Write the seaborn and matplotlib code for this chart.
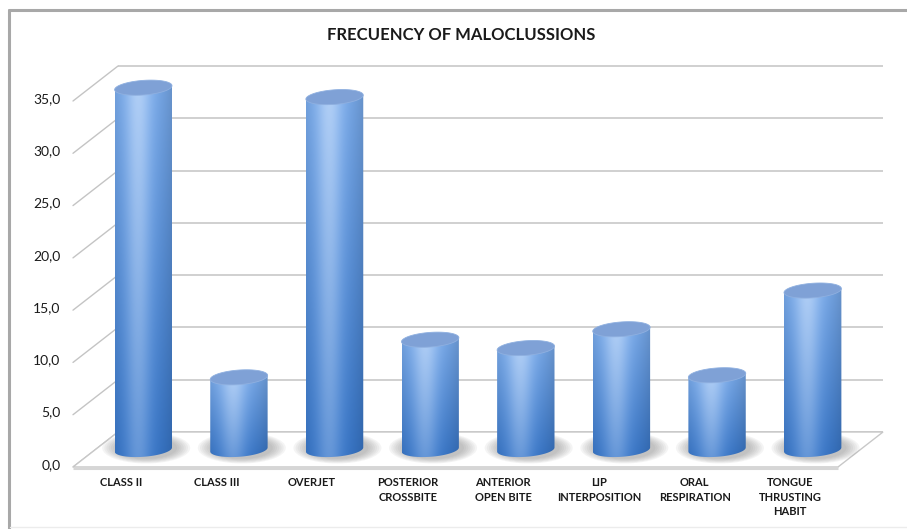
import numpy as np
import matplotlib
matplotlib.use("Agg")
import matplotlib.pyplot as plt
import seaborn as sns
from matplotlib.patches import Polygon, Ellipse
from matplotlib.lines import Line2D

# ---- data -------------------------------------------------------------
categories = ["CLASS II", "CLASS III", "OVERJET", "POSTERIOR\nCROSSBITE",
              "ANTERIOR\nOPEN BITE", "LIP\nINTERPOSITION", "ORAL\nRESPIRATION",
              "TONGUE\nTHRUSTING\nHABIT"]
frequency = [34.6, 6.9, 33.7, 10.5, 9.7, 11.5, 7.1, 15.2]
y_ticks = [0, 5, 10, 15, 20, 25, 30, 35]
y_tick_labels = ["0,0", "5,0", "10,0", "15,0", "20,0", "25,0", "30,0", "35,0"]
title = "FRECUENCY OF MALOCLUSSIONS"

# ---- style ------------------------------------------------------------
sns.set_theme(style="white")
plt.rcParams["font.family"] = ["Lato", "DejaVu Sans"]

W, H = 907, 529
fig = plt.figure(figsize=(W / 100, H / 100), dpi=100)
fig.patch.set_facecolor("white")

# Axes span the whole figure; the limits place the mid-depth plane of the
# 3-D box (baseline, category slots, value scale) where it belongs.
n = len(categories)
plane_left, plane_width = 95.5, 765.0      # px, mid-depth plane
base_px, top_px = 449.5, 83.5               # px from top for 0 and 35
slot = plane_width / n
ppu = (base_px - top_px) / y_ticks[-1]
x_lo = -0.5 - plane_left / slot
x_hi = -0.5 + (W - plane_left) / slot
y_lo = -(H - base_px) / ppu
y_hi = base_px / ppu

ax = fig.add_axes([0, 0, 1, 1])
sns.barplot(x=categories, y=frequency, width=0.6, color="#5b8fd8", ax=ax)
ax.set_xlim(x_lo, x_hi)
ax.set_ylim(y_lo, y_hi)
ax.axis("off")

# depth offset between front edge / mid plane / back wall (data units)
dx = 22.5 / slot
dy = 17.5 / ppu
x_left, x_right = -0.5, n - 0.5
grid_col = "#c4c4c4"

# back wall gridlines
for v in y_ticks:
    ax.plot([x_left + dx, x_right + dx], [v + dy, v + dy], color=grid_col,
            lw=1.1, zorder=0.2, solid_capstyle="butt")
    # left wall diagonals
    ax.plot([x_left - dx, x_left + dx], [v - dy, v + dy], color=grid_col,
            lw=1.0, zorder=0.2)

# floor
floor = Polygon([[x_left - dx, -dy], [x_right - dx, -dy],
                 [x_right + dx, dy], [x_left + dx, dy]], closed=True,
                facecolor="white", edgecolor="#c8c8c8", lw=1.0, zorder=0.5)
ax.add_patch(floor)
ax.plot([x_left - dx, x_right - dx], [-dy - 0.12, -dy - 0.12],
        color="#d6d6d6", lw=2.2, zorder=0.6, solid_capstyle="butt")

# y tick labels at the front edge
for v, lab in zip(y_ticks, y_tick_labels):
    ax.text(x_left - dx - 0.13, v - dy + 0.2, lab, ha="right", va="center",
            fontsize=10, color="#1a1a1a")

# category labels at the front edge
for i, lab in enumerate(categories):
    ax.text(i - dx, -dy - 1.0, lab, ha="center", va="top", fontsize=8,
            fontweight="bold", color="#1a1a1a", linespacing=1.38)

# ---- cylinders ------------------------------------------------------------
cap_b = 7.3 / ppu          # half-height of the elliptical caps
tilt = 2.0 / ppu           # perspective tilt of the caps
bottom_rgb = np.array([0.22, 0.47, 0.80])
top_rgb = np.array([0.48, 0.68, 0.94])

for patch, v in zip(ax.patches, frequency):
    x0 = patch.get_x()
    w = patch.get_width()
    top = patch.get_height()
    xc = x0 + w / 2
    a = w / 2
    patch.set_visible(False)

    # floor shadow
    for k in range(7):
        s = 1.0 + 0.07 * k
        sh = Ellipse((xc + 0.03, 0.15), 2 * a * s * 1.08, 2 * cap_b * s * 1.5,
                     facecolor="#7a7a7a", edgecolor="none", alpha=0.08,
                     zorder=1)
        ax.add_patch(sh)

    # body outline: sides + rounded bottom
    t = np.linspace(np.pi, 2 * np.pi, 80)
    bx = xc + a * np.cos(t)
    by = cap_b * np.sin(t) + tilt * np.cos(t)
    verts = np.vstack([[x0, top - tilt], [x0, -tilt],
                       np.column_stack([bx, by]),
                       [x0 + w, top + tilt], [x0, top - tilt]])
    body = Polygon(verts, closed=True, facecolor="none", edgecolor="none",
                   zorder=2)
    ax.add_patch(body)

    # cylindrical shading
    nx, ny = 120, 200
    u = np.linspace(0, 1, nx)
    tt = np.linspace(0, 1, ny)[:, None]
    base = bottom_rgb + (top_rgb - bottom_rgb) * tt
    base = base[:, None, :]
    hl = 0.40 * np.exp(-((u - 0.40) / 0.22) ** 2)[None, :, None]
    edge = (1.0 - 0.16 * ((u - 0.42) / 0.58) ** 2)[None, :, None]
    img = (base + (1 - base) * hl * (0.55 + 0.45 * tt[:, :, None])) * edge
    img = np.clip(img, 0, 1)
    im = ax.imshow(img, extent=(x0, x0 + w, -cap_b - tilt, top + tilt),
                   origin="lower", aspect="auto", interpolation="bilinear",
                   zorder=2)
    im.set_clip_path(body)

    # top cap
    tc = np.linspace(0, 2 * np.pi, 100)
    cx = xc + a * np.cos(tc)
    cy = top + cap_b * np.sin(tc) + tilt * np.cos(tc)
    cap = Polygon(np.column_stack([cx, cy]), closed=True,
                  facecolor="#7fa1d6", edgecolor="#8fb0e0", lw=0.6, zorder=3)
    ax.add_patch(cap)

# ---- title and frame ---------------------------------------------------------
fig.text(461.5 / W, 1 - 35 / H, title, ha="center", va="center",
         fontsize=12, fontweight="bold", color="#1a1a1a")

fig.add_artist(Line2D([8.5 / W, 1], [1 - 9.5 / H, 1 - 9.5 / H],
                      transform=fig.transFigure, color="#a8a8a8", lw=2.2))
fig.add_artist(Line2D([8.5 / W, 8.5 / W], [0, 1 - 9.5 / H],
                      transform=fig.transFigure, color="#a8a8a8", lw=2.2))
fig.add_artist(Line2D([10 / W, 1], [1 - 527 / H, 1 - 527 / H],
                      transform=fig.transFigure, color="#ececec", lw=1.0))

fig.savefig("out.png", dpi=100, facecolor="white")
